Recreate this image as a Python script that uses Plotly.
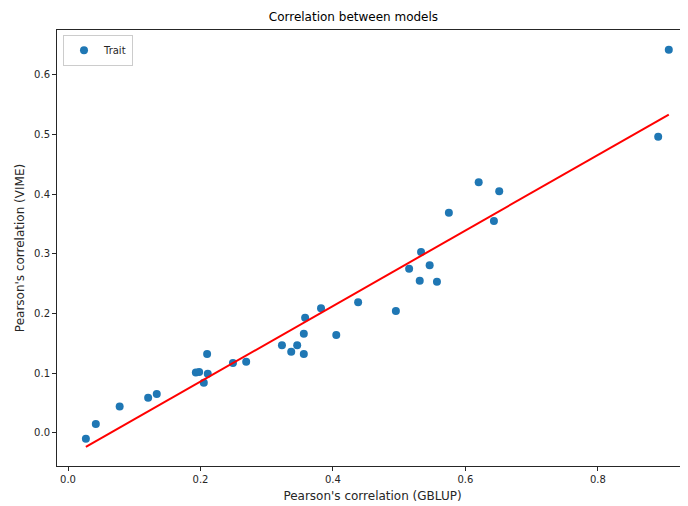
import numpy as np
import plotly.graph_objects as go

gblup = [0.027, 0.042, 0.078, 0.121, 0.134, 0.193, 0.198, 0.205, 0.210, 0.211,
         0.249, 0.269, 0.323, 0.337, 0.346, 0.356, 0.356, 0.358, 0.382, 0.405,
         0.438, 0.495, 0.515, 0.531, 0.533, 0.546, 0.557, 0.575, 0.620, 0.643,
         0.651, 0.891, 0.907]
vime = [-0.010, 0.015, 0.044, 0.059, 0.065, 0.101, 0.102, 0.084, 0.132, 0.099,
        0.117, 0.119, 0.147, 0.136, 0.147, 0.132, 0.166, 0.193, 0.209, 0.164,
        0.219, 0.204, 0.275, 0.255, 0.303, 0.281, 0.253, 0.369, 0.420, 0.355,
        0.405, 0.496, 0.642]

x = np.array(gblup)
y = np.array(vime)
slope, intercept = np.polyfit(x, y, 1)
fit = slope * x + intercept

font = "DejaVu Sans"
ink = "#262626"

fig = go.Figure()
fig.add_trace(go.Scatter(x=gblup, y=vime, mode="markers", name="Trait",
                         marker=dict(color="#1f77b4", size=8)))
fig.add_trace(go.Scatter(x=gblup, y=fit.tolist(), mode="lines", showlegend=False,
                         line=dict(color="red", width=2)))

fig.update_layout(
    width=680, height=498,
    margin=dict(l=49, r=0, t=22, b=40, pad=0),
    paper_bgcolor="white", plot_bgcolor="white",
    font=dict(family=font, size=10, color=ink),
    title=dict(text="Correlation between models", x=0.508, xanchor="center",
               y=0.982, yanchor="middle", font=dict(size=12, color="black")),
    showlegend=True,
    legend=dict(x=0.0095, y=0.989, xanchor="left", yanchor="top",
                bordercolor="#cccccc", borderwidth=1, bgcolor="white",
                itemwidth=30, tracegroupgap=0, font=dict(size=10)),
)
fig.update_xaxes(range=[-0.0166, 0.936], tickvals=[0, 0.2, 0.4, 0.6, 0.8],
                 tickformat=".1f", showgrid=False, zeroline=False, automargin=False,
                 showline=True, linecolor=ink, linewidth=1, mirror=True,
                 ticks="outside", ticklen=4, tickcolor=ink,
                 title=dict(text="Pearson's correlation (GBLUP)", standoff=7))
fig.update_yaxes(range=[-0.0555, 0.675], tickvals=[0, 0.1, 0.2, 0.3, 0.4, 0.5, 0.6],
                 tickformat=".1f", showgrid=False, zeroline=False, automargin=False,
                 showline=True, linecolor=ink, linewidth=1, mirror=False,
                 ticks="outside", ticklen=4, tickcolor=ink,
                 title=dict(text="Pearson's correlation (VIME)", standoff=6))

fig.write_html("out.html")
